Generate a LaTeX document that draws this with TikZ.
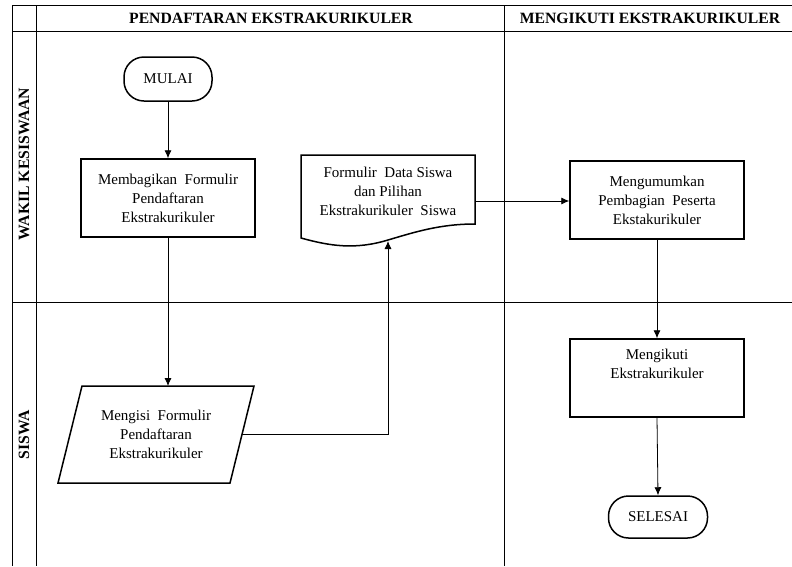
\documentclass[tikz,border=0pt]{standalone}
\usepackage{fontspec}
\setmainfont{Liberation Serif}
\usetikzlibrary{arrows.meta,calc}
\begin{document}
\begin{tikzpicture}[x=1pt,y=-1pt,
  grid/.style={line width=1pt},
  proc/.style={draw,line width=1.5pt,minimum width=174pt,minimum height=78pt,align=center,font=\fontsize{15}{19}\selectfont,inner sep=2pt},
  term/.style={draw,line width=1.5pt,rounded corners=20pt,align=center,font=\fontsize{15}{19}\selectfont},
  txt/.style={align=center,font=\fontsize{15}{19}\selectfont,inner sep=0pt},
  hdr/.style={font=\bfseries\fontsize{15.7}{18}\selectfont,inner sep=0pt},
  conn/.style={line width=0.8pt},
  arr/.style={line width=0.8pt,-{Latex[length=8pt,width=7pt]}}]
\useasboundingbox (0,0) rectangle (792,566);
% table
\draw[grid] (12,5) -- (792,5);
\draw[grid] (12,31) -- (792,31);
\draw[grid] (12,302) -- (792,302);
\draw[grid] (12,5) -- (12,566);
\draw[grid] (36,5) -- (36,566);
\draw[grid] (504,5) -- (504,566);
\node[hdr] (h1) at (271,18) {PENDAFTARAN EKSTRAKURIKULER};
\node[hdr] (h2) at (650,18) {MENGIKUTI EKSTRAKURIKULER};
\node[hdr,rotate=90] (l1) at (24,164) {WAKIL KESISWAAN};
\node[hdr,rotate=90] (l2) at (24,435) {SISWA};
% nodes
\node[term,minimum width=88pt,minimum height=44pt] (mulai) at (168,79) {MULAI};
\node[proc] (bagi) at (168,198) {Membagikan\ \ Formulir\\Pendaftaran\\Ekstrakurikuler};
% parallelogram
\draw[line width=1.5pt] (82,386) -- (254,386) -- (230,483) -- (58,483) -- cycle;
\node[txt] (isi) at (156,434) {Mengisi\ \ Formulir\\Pendaftaran\\Ekstrakurikuler};
\coordinate (isiE) at (242,434);
\coordinate (isiN) at (168,386);
% document
\draw[line width=1.5pt] (301,155) -- (475,155) -- (475,224)
   .. controls (440,224) and (415,232) .. (388,240)
   .. controls (355,250) and (330,246) .. (301,238) -- cycle;
\node[txt] (doc) at (388,191) {Formulir\ \ Data Siswa\\dan Pilihan\\Ekstrakurikuler\ \ Siswa};
\coordinate (docS) at (388,241);
\coordinate (docE) at (475,201);
\node[proc] (umum) at (657,200) {Mengumumkan\\Pembagian\ \ Peserta\\Ekstakurikuler};
\node[proc] (ikut) at (657,378) {};
\node[txt,anchor=north] (ikutT) at (657,349) {Mengikuti\\Ekstrakurikuler};
\node[term,minimum width=99pt,minimum height=42pt] (selesai) at (658,517) {SELESAI};
% connectors
\draw[arr] (mulai) -- (bagi);
\draw[arr] (bagi.south) -- (isiN);
\draw[arr] (isiE) -| (docS);
\draw[arr] (docE) -- (docE -| umum.west);
\draw[arr] (umum.south) -- (ikut.north);
\draw[arr] (ikut.south) -- (selesai.north);
\end{tikzpicture}
\end{document}
